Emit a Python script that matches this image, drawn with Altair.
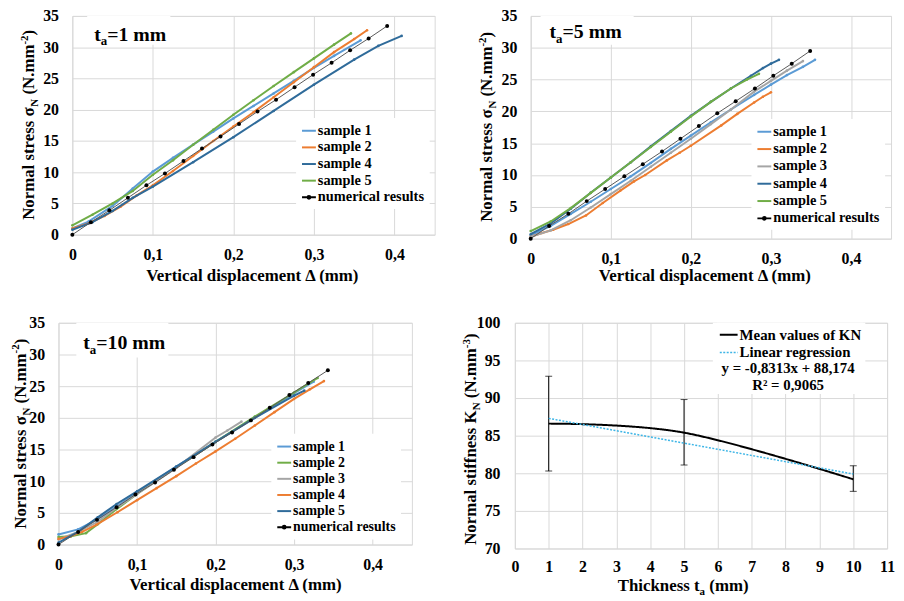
import altair as alt
import pandas as pd

FONT = "Liberation Serif"
GRID = "#D9D9D9"

# ---------------- data : panel ta = 1 mm ----------------
p1_names = ["sample 1", "sample 2", "sample 4", "sample 5", "numerical results"]
p1_colors = ["#5B9BD5", "#ED7D31", "#2F6B9A", "#70AD47", "black"]
p1_s1_x = [0, 0.02, 0.05, 0.075, 0.1, 0.125, 0.15, 0.175, 0.2, 0.225, 0.25, 0.275, 0.3, 0.325, 0.358]
p1_s1_y = [1.0, 2.1, 4.6, 7.4, 10.1, 12.3, 14.4, 16.5, 18.6, 20.6, 22.6, 24.6, 26.7, 28.6, 31.1]
p1_s2_x = [0, 0.02, 0.04, 0.06, 0.08, 0.1, 0.125, 0.15, 0.175, 0.2, 0.225, 0.25, 0.275, 0.3, 0.325, 0.35, 0.366]
p1_s2_y = [1.0, 1.8, 3.0, 4.5, 6.3, 7.9, 10.2, 12.6, 15.0, 17.3, 19.6, 22.0, 24.4, 26.8, 29.2, 31.3, 32.7]
p1_s4_x = [0, 0.025, 0.05, 0.075, 0.1, 0.15, 0.2, 0.25, 0.3, 0.35, 0.38, 0.409]
p1_s4_y = [0.8, 2.0, 3.8, 5.9, 7.7, 11.6, 15.6, 19.8, 24.0, 28.0, 30.2, 31.8]
p1_s5_x = [0, 0.025, 0.05, 0.075, 0.1, 0.125, 0.15, 0.175, 0.2, 0.225, 0.25, 0.275, 0.3, 0.325, 0.346]
p1_s5_y = [1.5, 3.2, 5.0, 7.0, 9.6, 11.9, 14.4, 16.8, 19.2, 21.5, 23.8, 26.0, 28.2, 30.4, 32.2]
p1_num_x = [0, 0.023, 0.046, 0.069, 0.092, 0.115, 0.138, 0.161, 0.184, 0.207, 0.230, 0.253, 0.276, 0.299, 0.322, 0.345, 0.368, 0.391]
p1_num_y = [0, 2.0, 3.9, 5.9, 7.9, 9.8, 11.8, 13.8, 15.7, 17.7, 19.7, 21.6, 23.6, 25.6, 27.5, 29.5, 31.4, 33.4]

# ---------------- data : panel ta = 5 mm ----------------
p2_names = ["sample 1", "sample 2", "sample 3", "sample 4", "sample 5", "numerical results"]
p2_colors = ["#5B9BD5", "#ED7D31", "#A5A5A5", "#2F6B9A", "#70AD47", "black"]
p2_s1_x = [0, 0.025, 0.05, 0.075, 0.1, 0.125, 0.15, 0.175, 0.2, 0.225, 0.25, 0.279, 0.3, 0.32, 0.34, 0.355]
p2_s1_y = [0.5, 2.0, 3.9, 5.8, 7.8, 9.8, 11.9, 14.1, 16.2, 18.3, 20.3, 22.6, 24.2, 25.7, 27.0, 28.1]
p2_s2_x = [0, 0.014, 0.028, 0.047, 0.069, 0.09, 0.112, 0.129, 0.143, 0.17, 0.186, 0.2, 0.238, 0.258, 0.279, 0.29, 0.3]
p2_s2_y = [0.3, 0.9, 1.4, 2.3, 3.65, 5.6, 7.55, 9.0, 10.0, 12.3, 13.5, 14.6, 17.8, 19.6, 21.4, 22.3, 23.0]
p2_s3_x = [0, 0.025, 0.05, 0.075, 0.1, 0.125, 0.15, 0.175, 0.2, 0.225, 0.25, 0.279, 0.3, 0.32, 0.34]
p2_s3_y = [0.3, 1.3, 2.9, 4.9, 7.0, 9.1, 11.3, 13.5, 15.7, 18.0, 20.3, 23.1, 24.8, 26.4, 27.9]
p2_s4_x = [0, 0.025, 0.05, 0.075, 0.1, 0.125, 0.15, 0.175, 0.2, 0.225, 0.25, 0.275, 0.29, 0.3, 0.31]
p2_s4_y = [0.7, 2.4, 4.7, 7.2, 9.6, 12.0, 14.5, 16.9, 19.3, 21.5, 23.6, 25.6, 26.8, 27.5, 28.1]
p2_s5_x = [0, 0.025, 0.05, 0.075, 0.1, 0.125, 0.15, 0.175, 0.2, 0.225, 0.25, 0.27, 0.285]
p2_s5_y = [1.2, 2.7, 4.8, 7.2, 9.6, 12.0, 14.4, 16.8, 19.2, 21.5, 23.6, 25.0, 25.9]
p2_num_x = [0, 0.023, 0.047, 0.070, 0.093, 0.117, 0.140, 0.164, 0.187, 0.210, 0.233, 0.256, 0.280, 0.303, 0.326, 0.349]
p2_num_y = [0, 2.0, 3.9, 5.9, 7.8, 9.8, 11.7, 13.7, 15.7, 17.7, 19.7, 21.6, 23.6, 25.6, 27.5, 29.5]

# ---------------- data : panel ta = 10 mm ----------------
p3_names = ["sample 1", "sample 2", "sample 3", "sample 4", "sample 5", "numerical results"]
p3_colors = ["#5B9BD5", "#70AD47", "#A5A5A5", "#ED7D31", "#2F6B9A", "black"]
p3_s1_x = [0, 0.025, 0.05, 0.074, 0.1, 0.15, 0.2, 0.25, 0.3, 0.325]
p3_s1_y = [1.6, 2.4, 4.0, 6.0, 8.2, 12.3, 16.2, 20.0, 23.9, 25.7]
p3_s2_x = [0, 0.016, 0.035, 0.05, 0.074, 0.1, 0.15, 0.2, 0.25, 0.3, 0.33]
p3_s2_y = [1.2, 1.3, 1.8, 3.2, 5.6, 8.0, 12.2, 16.2, 20.2, 24.0, 26.3]
p3_s3_x = [0, 0.025, 0.05, 0.074, 0.1, 0.15, 0.2, 0.215, 0.233]
p3_s3_y = [0.8, 2.0, 3.6, 5.8, 8.0, 12.1, 16.9, 18.0, 19.4]
p3_s4_x = [0, 0.015, 0.03, 0.048, 0.075, 0.1, 0.125, 0.15, 0.175, 0.2, 0.225, 0.25, 0.275, 0.3, 0.32, 0.338]
p3_s4_y = [0.9, 1.3, 2.0, 3.1, 5.1, 7.0, 8.9, 10.8, 12.8, 14.7, 16.7, 18.8, 20.9, 23.0, 24.5, 25.8]
p3_s5_x = [0, 0.025, 0.05, 0.074, 0.1, 0.15, 0.2, 0.25, 0.3, 0.313]
p3_s5_y = [0.3, 2.0, 4.3, 6.4, 8.4, 12.3, 16.2, 20.0, 23.5, 24.3]
p3_num_x = [0, 0.025, 0.049, 0.074, 0.098, 0.123, 0.147, 0.172, 0.196, 0.221, 0.245, 0.269, 0.294, 0.318, 0.343]
p3_num_y = [0, 2.0, 3.9, 5.9, 7.9, 9.8, 11.8, 13.8, 15.8, 17.7, 19.6, 21.6, 23.6, 25.5, 27.5]

# ---------------- data : stiffness panel ----------------
k_thick = [1, 5, 10]
k_mean = [86.6, 85.4, 79.2]
k_low = [80.3, 81.1, 77.6]
k_high = [92.9, 89.8, 81.0]
reg_x = [1, 10]
reg_y = [87.3, 79.9]
k_names = ["Mean values of KN", "Linear regression"]

x_ticks_disp = [0, 0.1, 0.2, 0.3, 0.4]
y_ticks_stress = [0, 5, 10, 15, 20, 25, 30, 35]
x_ticks_thick = [0, 1, 2, 3, 4, 5, 6, 7, 8, 9, 10, 11]
y_ticks_stiff = [70, 75, 80, 85, 90, 95, 100]

# ---------------- helpers ----------------
W = {' ': 250, '(': 333, ')': 333, '-': 333, '.': 250, ',': 250, '=': 570, '+': 570,
     'K': 778, 'N': 722, 'T': 667, 'V': 722,
     'a': 500, 'c': 444, 'd': 556, 'e': 444, 'f': 333, 'h': 556, 'i': 278, 'k': 556,
     'l': 278, 'm': 833, 'n': 556, 'o': 500, 'p': 556, 'r': 444, 's': 389, 't': 333,
     'u': 556, 'v': 500, 'x': 500, 'y': 500, 'σ': 560, 'Δ': 612}
for d in "0123456789":
    W[d] = 500

ONE = pd.DataFrame({"k": [0]})


def tw(s, size):
    return sum(W.get(ch, 500) for ch in s) * size / 1000.0


def rich_text(pieces, size, ax, ay, angle=0, anchor="center"):
    small = size * 0.65
    sized = [(t, k, size if k == "n" else small) for t, k in pieces]
    total = sum(tw(t, s) for t, k, s in sized)
    pos = -total / 2 if anchor == "center" else 0.0
    out = []
    for t, k, s in sized:
        off = 0.0
        if k == "sub":
            off = 0.22 * size
        elif k == "sup":
            off = -0.38 * size
        lead = len(t) - len(t.lstrip(" "))
        start = pos + tw(" " * lead, s)
        if angle == 0:
            px, py = ax + start, ay + off
        else:
            px, py = ax + off, ay - start
        out.append(
            alt.Chart(ONE).mark_text(text=t.strip(" "), font=FONT, fontSize=s, fontWeight="bold",
                                     align="left", baseline="alphabetic", angle=angle,
                                     color="black")
            .encode(x=alt.value(px), y=alt.value(py))
        )
        pos += tw(t, s)
    return out


def white_box(x0, y0, x1, y1):
    return alt.Chart(ONE).mark_rect(color="white").encode(
        x=alt.value(x0), x2=alt.value(x1), y=alt.value(y0), y2=alt.value(y1))


def axis_common(**kw):
    base = dict(title=None, grid=True, gridColor=GRID, gridWidth=1, domain=False, ticks=False,
                tickSize=0, labelFont=FONT, labelFontSize=16, labelFontWeight="bold",
                labelColor="black", labelFlush=False, labelOverlap=False)
    base.update(kw)
    return alt.Axis(**base)


SAMPLE_PATH = "M-1,0H1"
NUM_PATH = "M-1,0H1M-0.2,0A0.2,0.2,0,1,1,0.2,0A0.2,0.2,0,1,1,-0.2,0"

LABEL_EXPR = "datum.value == 0 ? '0' : replace(format(datum.value, '.1f'), '.', ',')"

Y_TITLE_STRESS = [("Normal stress σ", "n"), ("N", "sub"), (" (N.mm", "n"), ("-2", "sup"), (")", "n")]
X_TITLE_DISP = [("Vertical displacement Δ (mm)", "n")]


def stress_panel(names, colors, sx, sy, nx, ny, w, h, leg, ta, ta_pos, box, ytitle, xtitle):
    ndf = pd.DataFrame({"series": names[-1], "x": nx, "y": ny})

    xe = alt.X("x:Q", scale=alt.Scale(domain=[0, 0.45], nice=False, zero=False),
               axis=axis_common(values=x_ticks_disp, labelExpr=LABEL_EXPR, labelPadding=12))
    ye = alt.Y("y:Q", scale=alt.Scale(domain=[0, 35], nice=False),
               axis=axis_common(values=y_ticks_stress, labelPadding=14))
    cscale = alt.Scale(domain=names, range=colors)
    lg = alt.Legend(orient="none", legendX=leg[0], legendY=leg[1], title=None,
                    labelFont=FONT, labelFontSize=leg[2], labelFontWeight="bold",
                    labelColor="black", symbolSize=196, symbolStrokeWidth=2,
                    symbolOpacity=1, fillColor="white", padding=5, rowPadding=leg[3],
                    labelOffset=1)
    paths = [SAMPLE_PATH] * (len(names) - 1) + [NUM_PATH]

    layers = [white_box(*box)]
    for name, col, xs, ys in zip(names[:-1], colors[:-1], sx, sy):
        df = pd.DataFrame({"x": xs, "y": ys})
        layers.append(alt.Chart(df).mark_line(strokeWidth=2, color=col).encode(x=xe, y=ye))
        layers.append(alt.Chart(df).mark_circle(size=7, opacity=1, color=col).encode(x=xe, y=ye))
    layers.append(alt.Chart(ndf).mark_line(color="#595959", strokeWidth=1).encode(x=xe, y=ye))
    layers.append(alt.Chart(ndf).mark_circle(size=16, color="black", opacity=1).encode(x=xe, y=ye))
    # invisible carrier of the legend
    layers.append(alt.Chart(ndf).mark_point(filled=False, opacity=0).encode(
        x=xe, y=ye,
        color=alt.Color("series:N", scale=cscale, legend=lg),
        shape=alt.Shape("series:N", scale=alt.Scale(domain=names, range=paths), legend=lg)))
    layers += rich_text([("t", "n"), ("a", "sub"), ("=" + ta, "n")], 20, ta_pos[0], ta_pos[1], anchor="left")
    layers += rich_text(Y_TITLE_STRESS, 17, ytitle[0], ytitle[1], angle=270)
    layers += rich_text(X_TITLE_DISP, 17, xtitle[0], xtitle[1])
    return alt.layer(*layers).properties(width=w, height=h)


p1 = stress_panel(p1_names, p1_colors,
                  [p1_s1_x, p1_s2_x, p1_s4_x, p1_s5_x], [p1_s1_y, p1_s2_y, p1_s4_y, p1_s5_y],
                  p1_num_x, p1_num_y, 366, 221, (226, 103, 14.5, 1.8), "1 mm", (22, 25),
                  (15, 0, 99, 29), (-38.3, 110), (183, 268))
p2 = stress_panel(p2_names, p2_colors,
                  [p2_s1_x, p2_s2_x, p2_s3_x, p2_s4_x, p2_s5_x],
                  [p2_s1_y, p2_s2_y, p2_s3_y, p2_s4_y, p2_s5_y],
                  p2_num_x, p2_num_y, 364, 225, (223, 104, 14.5, 2.5), "5 mm", (19, 22.7),
                  (10, 0, 104, 29), (-39, 112), (177, 268))
p3 = stress_panel(p3_names, p3_colors,
                  [p3_s1_x, p3_s2_x, p3_s3_x, p3_s4_x, p3_s5_x],
                  [p3_s1_y, p3_s2_y, p3_s3_y, p3_s4_y, p3_s5_y],
                  p3_num_x, p3_num_y, 357, 224, (215, 112, 14, 1.3), "10 mm", (25, 26.7),
                  (18, 0, 111, 35), (-33, 112), (180, 269.5))

# ---------------- stiffness panel ----------------
line_df = pd.DataFrame({
    "series": [k_names[0]] * len(k_thick) + [k_names[1]] * len(reg_x),
    "x": k_thick + reg_x,
    "y": k_mean + reg_y,
})
err_df = pd.DataFrame({"x": k_thick, "lo": k_low, "hi": k_high})

kx = alt.X("x:Q", scale=alt.Scale(domain=[0, 11], nice=False, zero=False),
           axis=axis_common(values=x_ticks_thick, labelPadding=10, format="d"))
ky_scale = alt.Scale(domain=[70, 100], nice=False, zero=False)
ky_axis = axis_common(values=y_ticks_stiff, labelPadding=15)
lg4 = alt.Legend(orient="none", legendX=204, legendY=0, title=None, labelFont=FONT,
                 labelFontSize=15, labelFontWeight="bold", labelColor="black",
                 symbolSize=324, fillColor="white", padding=2, rowPadding=0, labelOffset=1)

p4_layers = [white_box(200, 0, 354, 72)]
p4_layers.append(alt.Chart(err_df).mark_rule(color="black", strokeWidth=1).encode(
    x=kx, y=alt.Y("lo:Q", scale=ky_scale, axis=ky_axis), y2="hi:Q"))
p4_layers.append(alt.Chart(err_df).mark_tick(orient="horizontal", size=7, thickness=1, color="black").encode(
    x=kx, y=alt.Y("lo:Q", scale=ky_scale, axis=ky_axis)))
p4_layers.append(alt.Chart(err_df).mark_tick(orient="horizontal", size=7, thickness=1, color="black").encode(
    x=kx, y=alt.Y("hi:Q", scale=ky_scale, axis=ky_axis)))
p4_layers.append(alt.Chart(line_df).mark_line(interpolate="cardinal").encode(
    x=kx, y=alt.Y("y:Q", scale=ky_scale, axis=ky_axis),
    color=alt.Color("series:N", scale=alt.Scale(domain=k_names, range=["black", "#3DB5E6"]), legend=lg4),
    strokeDash=alt.StrokeDash("series:N", scale=alt.Scale(domain=k_names, range=[[1, 0], [2, 1.5]]), legend=lg4),
    strokeWidth=alt.StrokeWidth("series:N", scale=alt.Scale(domain=k_names, range=[2, 1.5]), legend=lg4),
))
p4_layers.append(alt.Chart(ONE).mark_text(text="y = -0,8313x + 88,174", font=FONT, fontSize=15,
                                          fontWeight="bold", align="center", baseline="middle",
                                          color="black").encode(x=alt.value(276), y=alt.value(46)))
p4_layers.append(alt.Chart(ONE).mark_text(text="R² = 0,9065", font=FONT, fontSize=15,
                                          fontWeight="bold", align="center", baseline="middle",
                                          color="black").encode(x=alt.value(276), y=alt.value(63)))
p4_layers += rich_text([("Normal stiffness K", "n"), ("N", "sub"), (" (N.mm", "n"), ("-3", "sup"), (")", "n")],
                       17, -39, 117.5, angle=270)
p4_layers += rich_text([("Thickness t", "n"), ("a", "sub"), (" (mm)", "n")], 17, 170, 271)
p4 = alt.layer(*p4_layers).properties(width=376, height=228)


def spacer(w):
    return alt.Chart(ONE).mark_point(opacity=0).encode(
        x=alt.value(0), y=alt.value(0)).properties(width=w, height=1,
                                                   view=alt.ViewBackground(strokeOpacity=0))


RES = dict(color="independent", shape="independent", strokeDash="independent", strokeWidth="independent")

row1 = alt.hconcat(spacer(14), p1, spacer(97), p2, spacing=0, bounds="flush").resolve_scale(**RES)
row2 = alt.hconcat(p3, spacer(104), p4, spacing=0, bounds="flush").resolve_scale(**RES)

# with flush bounds the nested rows count as zero-height, so spacing is the top-to-top distance
chart = (
    alt.vconcat(row1, row2, spacing=310, bounds="flush")
    .resolve_scale(**RES)
    .properties(padding={"left": 2, "top": -4, "right": 0, "bottom": 0})
    .configure(background="white")
    .configure_view(stroke=GRID, strokeWidth=1)
)

chart.save("out.html", embed_options={"renderer": "svg", "actions": False})
